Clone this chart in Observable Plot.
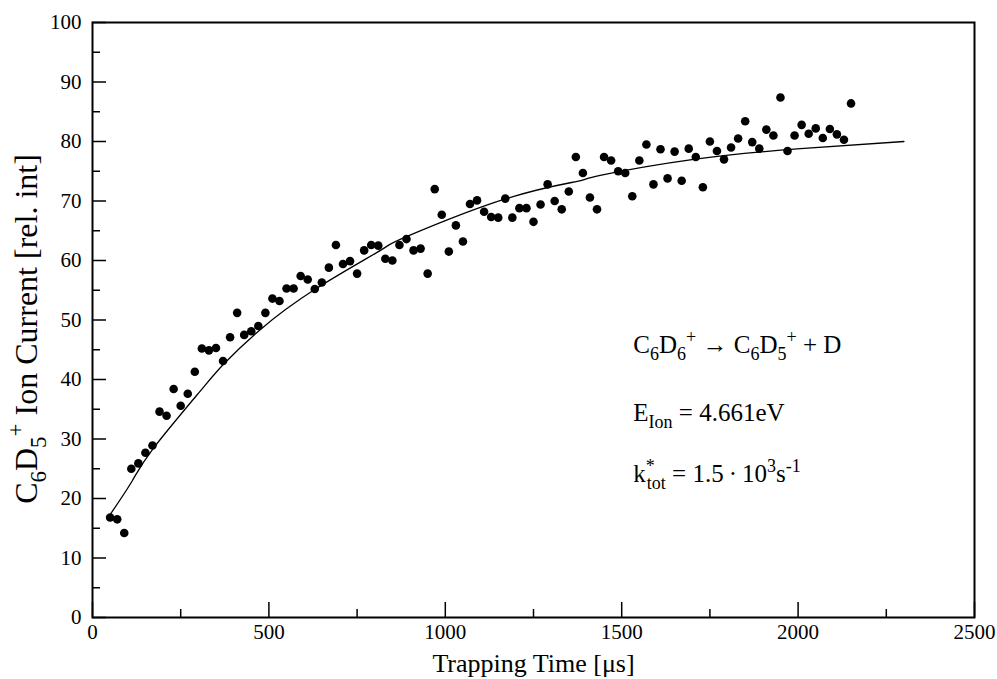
<!DOCTYPE html>
<html><head><meta charset="utf-8">
<script src="https://cdn.jsdelivr.net/npm/d3@7"></script>
<script src="https://cdn.jsdelivr.net/npm/@observablehq/plot@0.6"></script>
<style>
body{margin:0;background:#fff;}
#chart svg{display:block;}
</style></head><body><div id="chart"></div>
<script>
// ---- data ----
const trapTimes = [50,70,90,110,130,150,170,190,210,230,
  250,270,290,310,330,350,370,390,410,430,
  450,470,490,510,530,550,570,590,610,630,
  650,670,690,710,730,750,770,790,810,830,
  850,870,890,910,930,950,970,990,1010,1030,
  1050,1070,1090,1110,1130,1150,1170,1190,1210,1230,
  1250,1270,1290,1310,1330,1350,1370,1390,1410,1430,
  1450,1470,1490,1510,1530,1550,1570,1590,1610,1630,
  1650,1670,1690,1710,1730,1750,1770,1790,1810,1830,
  1850,1870,1890,1910,1930,1950,1970,1990,2010,2030,
  2050,2070,2090,2110,2130,2150];
const ionCurrent = [16.8,16.5,14.2,25.0,25.9,27.7,28.9,34.6,33.9,38.4,
  35.6,37.6,41.3,45.2,44.9,45.3,43.1,47.1,51.2,47.5,
  48.1,49.0,51.2,53.6,53.2,55.3,55.3,57.4,56.8,55.2,
  56.3,58.8,62.6,59.4,59.9,57.8,61.7,62.6,62.5,60.3,
  60.0,62.6,63.6,61.7,62.0,57.8,72.0,67.7,61.5,65.9,
  63.2,69.5,70.1,68.2,67.3,67.2,70.4,67.2,68.8,68.8,
  66.5,69.4,72.8,70.0,68.6,71.6,77.4,74.7,70.6,68.6,
  77.4,76.8,75.0,74.7,70.8,76.8,79.5,72.8,78.7,73.8,
  78.3,73.4,78.8,77.4,72.3,80.0,78.4,77.0,79.0,80.5,
  83.4,79.9,78.8,82.0,81.0,87.4,78.4,81.0,82.8,81.3,
  82.2,80.6,82.1,81.2,80.3,86.4];
const fitTimes  = [50, 112, 172, 306, 372, 472, 632, 816, 890, 1168, 1374, 1439, 1704, 2007, 2300];
const fitValues = [17.3, 22.9, 28.4, 38.1, 42.6, 48.2, 55.2, 61.7, 64.0, 70.3, 73.3, 74.3, 77.0, 78.8, 80.0];
const xTicks = [0, 500, 1000, 1500, 2000, 2500];
const xMinorTicks = [250, 750, 1250, 1750, 2250];
const yTicks = [0, 10, 20, 30, 40, 50, 60, 70, 80, 90, 100];
const yMinorTicks = [5, 15, 25, 35, 45, 55, 65, 75, 85, 95];
const xTitle = "Trapping Time [μs]";
const yTitle = "C6D5+ Ion Current [rel. int]";
const annotationLines = ["C6D6+ → C6D5+ + D", "EIon = 4.661eV", "k*tot = 1.5·10³s-1"];

// rich-text pieces (sub/superscripts) for the texts above
const yTitleSegs = [{t:"C"},{t:"6",k:"sub"},{t:"D"},{t:"5",k:"sub"},{t:"+",k:"sup"},{t:" Ion Current [rel. int]"}];
const annSegs = [
  [{t:"C"},{t:"6",k:"sub"},{t:"D"},{t:"6",k:"sub"},{t:"+",k:"sup"},{t:" → C"},{t:"6",k:"sub"},{t:"D"},{t:"5",k:"sub"},{t:"+",k:"sup"},{t:" + D"}],
  [{t:"E"},{t:"Ion",k:"sub"},{t:" = 4.661eV"}],
  [{t:"k"},{t:"*",k:"sup"},{t:"tot",k:"sub",dx:-8},{t:" = 1.5\u2009·\u200910"},{t:"3",k:"sup"},{t:"s"},{t:"-1",k:"sup"}]
];

// ---- layout ----
const W = 997, H = 679;
const mL = 92, mR = 23, mT = 22, mB = 62;
const innerW = W - mL - mR, innerH = H - mT - mB;
const serif = "'Liberation Serif','Times New Roman',serif";

const points = trapTimes.map((t, i) => ({t, v: ionCurrent[i]}));
const fit = fitTimes.map((t, i) => ({t, v: fitValues[i]}));
const annPos = [{t: 1533, v: 44.4}, {t: 1533, v: 33.1}, {t: 1533, v: 22.7}];
const ann = annotationLines.map((label, i) => ({...annPos[i], label}));

const chart = Plot.plot({
  width: W, height: H,
  marginLeft: mL, marginRight: mR, marginTop: mT, marginBottom: mB,
  style: {fontFamily: serif, fontSize: "20px", color: "#000", background: "#fff", overflow: "visible"},
  x: {domain: [0, 2500]},
  y: {domain: [0, 100]},
  marks: [
    Plot.tickY(yTicks, {y: d => d, insetRight: innerW - 14, stroke: "#000", strokeWidth: 1.5}),
    Plot.tickY(yMinorTicks, {y: d => d, insetRight: innerW - 8, stroke: "#000", strokeWidth: 1.5}),
    Plot.tickX(xTicks, {x: d => d, insetTop: innerH - 15, stroke: "#000", strokeWidth: 1.5}),
    Plot.tickX(xMinorTicks, {x: d => d, insetTop: innerH - 8, stroke: "#000", strokeWidth: 1.5}),
    Plot.axisX(xTicks, {tickSize: 0, tickPadding: 7, fontSize: 21, label: null, tickFormat: d => String(d)}),
    Plot.axisY(yTicks, {tickSize: 0, tickPadding: 11, fontSize: 21, label: null, tickFormat: d => String(d)}),
    Plot.text([xTitle], {frameAnchor: "bottom", dy: 46, fontSize: 26, textAnchor: "middle", lineAnchor: "middle", fill: "#000"}),
    Plot.text([yTitle], {frameAnchor: "left", dx: -66, dy: 9, rotate: -90, fontSize: 32, textAnchor: "middle", lineAnchor: "middle", fill: "#000"}),
    Plot.line(fit, {x: "t", y: "v", curve: "natural", stroke: "#000", strokeWidth: 1.3}),
    Plot.dot(points, {x: "t", y: "v", r: 4.3, fill: "#000", stroke: "none"}),
    Plot.text(ann, {x: "t", y: "v", text: "label", textAnchor: "start", lineAnchor: "bottom", fontSize: 25, fill: "#000"}),
    Plot.frame({stroke: "#000", strokeWidth: 2})
  ]
});
document.getElementById("chart").appendChild(chart);

// ---- sub/superscripts ----
function rich(textEl, segs, fs) {
  textEl.textContent = "";
  let cur = 0;
  for (const s of segs) {
    const ts = document.createElementNS("http://www.w3.org/2000/svg", "tspan");
    const target = s.k === "sub" ? 0.28 * fs : s.k === "sup" ? -0.42 * fs : 0;
    ts.setAttribute("dy", (target - cur).toFixed(2));
    cur = target;
    if (s.k) ts.setAttribute("font-size", (0.72 * fs).toFixed(1));
    if (s.dx) ts.setAttribute("dx", s.dx);
    ts.textContent = s.t;
    textEl.appendChild(ts);
  }
}
chart.querySelectorAll("text").forEach(el => {
  const s = el.textContent;
  if (s === yTitle) rich(el, yTitleSegs, 32);
  const i = annotationLines.indexOf(s);
  if (i >= 0) rich(el, annSegs[i], 25);
});
</script></body></html>
